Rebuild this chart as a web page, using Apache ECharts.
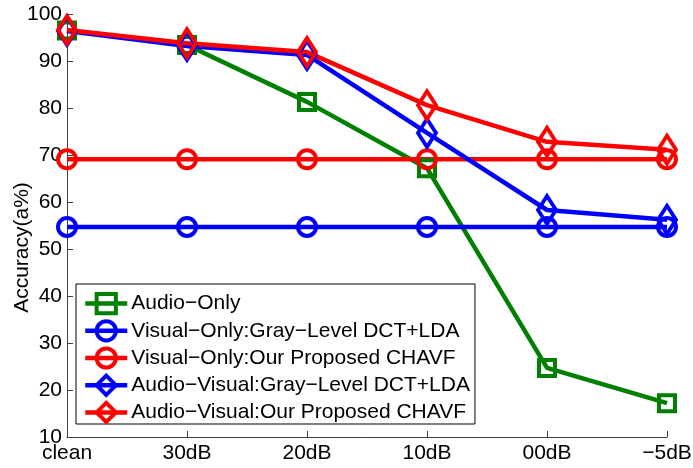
<!DOCTYPE html>
<html>
<head>
<meta charset="utf-8">
<script src="https://cdn.jsdelivr.net/npm/echarts@6/dist/echarts.min.js"></script>
<style>
  html, body { margin: 0; padding: 0; background: #fff; }
  #chart { width: 693px; height: 468px; }
</style>
</head>
<body>
<div id="chart"></div>
<script>
// Noise conditions along the x axis
const conditions = ['clean', '30dB', '20dB', '10dB', '00dB', '\u22125dB'];

// Recognition accuracy (%) for each system
const audioOnly      = [96.5, 93.4, 81.3, 67.2, 24.7, 17.2];
const visualGrayDct  = [54.7, 54.7, 54.7, 54.7, 54.7, 54.7];
const visualChavf    = [69.1, 69.1, 69.1, 69.1, 69.1, 69.1];
const avGrayDct      = [96.4, 93.2, 91.3, 74.7, 58.3, 56.2];
const avChavf        = [96.6, 93.8, 91.9, 80.6, 72.8, 71.1];

const seriesNames = [
  'Audio\u2212Only',
  'Visual\u2212Only:Gray\u2212Level DCT+LDA',
  'Visual\u2212Only:Our Proposed CHAVF',
  'Audio\u2212Visual:Gray\u2212Level DCT+LDA',
  'Audio\u2212Visual:Our Proposed CHAVF'
];

const GREEN = '#008000', BLUE = '#0000ff', RED = '#ff0000';
const FONT = '"Liberation Sans", Arial, Helvetica, sans-serif';

function lineSeries(name, data, color, symbol, size) {
  return {
    name: name,
    type: 'line',
    data: data,
    symbol: symbol,
    symbolSize: size,
    showAllSymbol: true,
    animation: false,
    lineStyle: { color: color, width: 4.5 },
    itemStyle: { color: 'transparent', borderColor: color, borderWidth: 4 },
    emphasis: { disabled: true }
  };
}

const chart = echarts.init(document.getElementById('chart'), null, { renderer: 'canvas' });
chart.setOption({
  backgroundColor: '#fff',
  animation: false,
  textStyle: { fontFamily: FONT },
  grid: { left: 67, right: 26, top: 14, bottom: 31, containLabel: false, outerBoundsMode: 'none' },
  legend: {
    orient: 'vertical',
    left: 76,
    top: 284,
    padding: [8, 5, 0, 7],
    itemWidth: 42,
    itemHeight: 24,
    itemGap: 4,
    backgroundColor: '#fff',
    borderColor: '#000',
    borderWidth: 1,
    borderRadius: 0,
    selectedMode: false,
    lineStyle: { width: 4.5 },
    itemStyle: { borderWidth: 4 },
    textStyle: { fontFamily: FONT, fontSize: 21, color: '#000', padding: [0, 0, 0, -1] },
    data: seriesNames
  },
  xAxis: {
    type: 'category',
    data: conditions,
    boundaryGap: false,
    axisLine: { lineStyle: { color: '#404040', width: 1 } },
    axisTick: { inside: true, length: 6, alignWithLabel: true, lineStyle: { color: '#404040' } },
    axisLabel: { color: '#000', fontSize: 21, fontFamily: FONT, margin: 6, interval: 0 },
    splitLine: { show: false }
  },
  yAxis: {
    type: 'value',
    min: 10,
    max: 100,
    interval: 10,
    name: 'Accuracy(a%)',
    nameLocation: 'middle',
    nameGap: 34,
    nameMoveOverlap: false,
    nameTextStyle: { color: '#000', fontSize: 21, fontFamily: FONT, padding: [0, 44, 0, 0] },
    axisLine: { show: true, lineStyle: { color: '#404040', width: 1 } },
    axisTick: { show: true, inside: true, length: 6, lineStyle: { color: '#404040' } },
    axisLabel: { color: '#000', fontSize: 21, fontFamily: FONT, margin: 5 },
    splitLine: { show: false }
  },
  series: [
    lineSeries(seriesNames[0], audioOnly, GREEN, 'rect', 16),
    lineSeries(seriesNames[1], visualGrayDct, BLUE, 'circle', 18),
    lineSeries(seriesNames[2], visualChavf, RED, 'circle', 18),
    lineSeries(seriesNames[3], avGrayDct, BLUE, 'diamond', [18, 28]),
    lineSeries(seriesNames[4], avChavf, RED, 'diamond', [18, 28])
  ]
});
</script>
</body>
</html>
